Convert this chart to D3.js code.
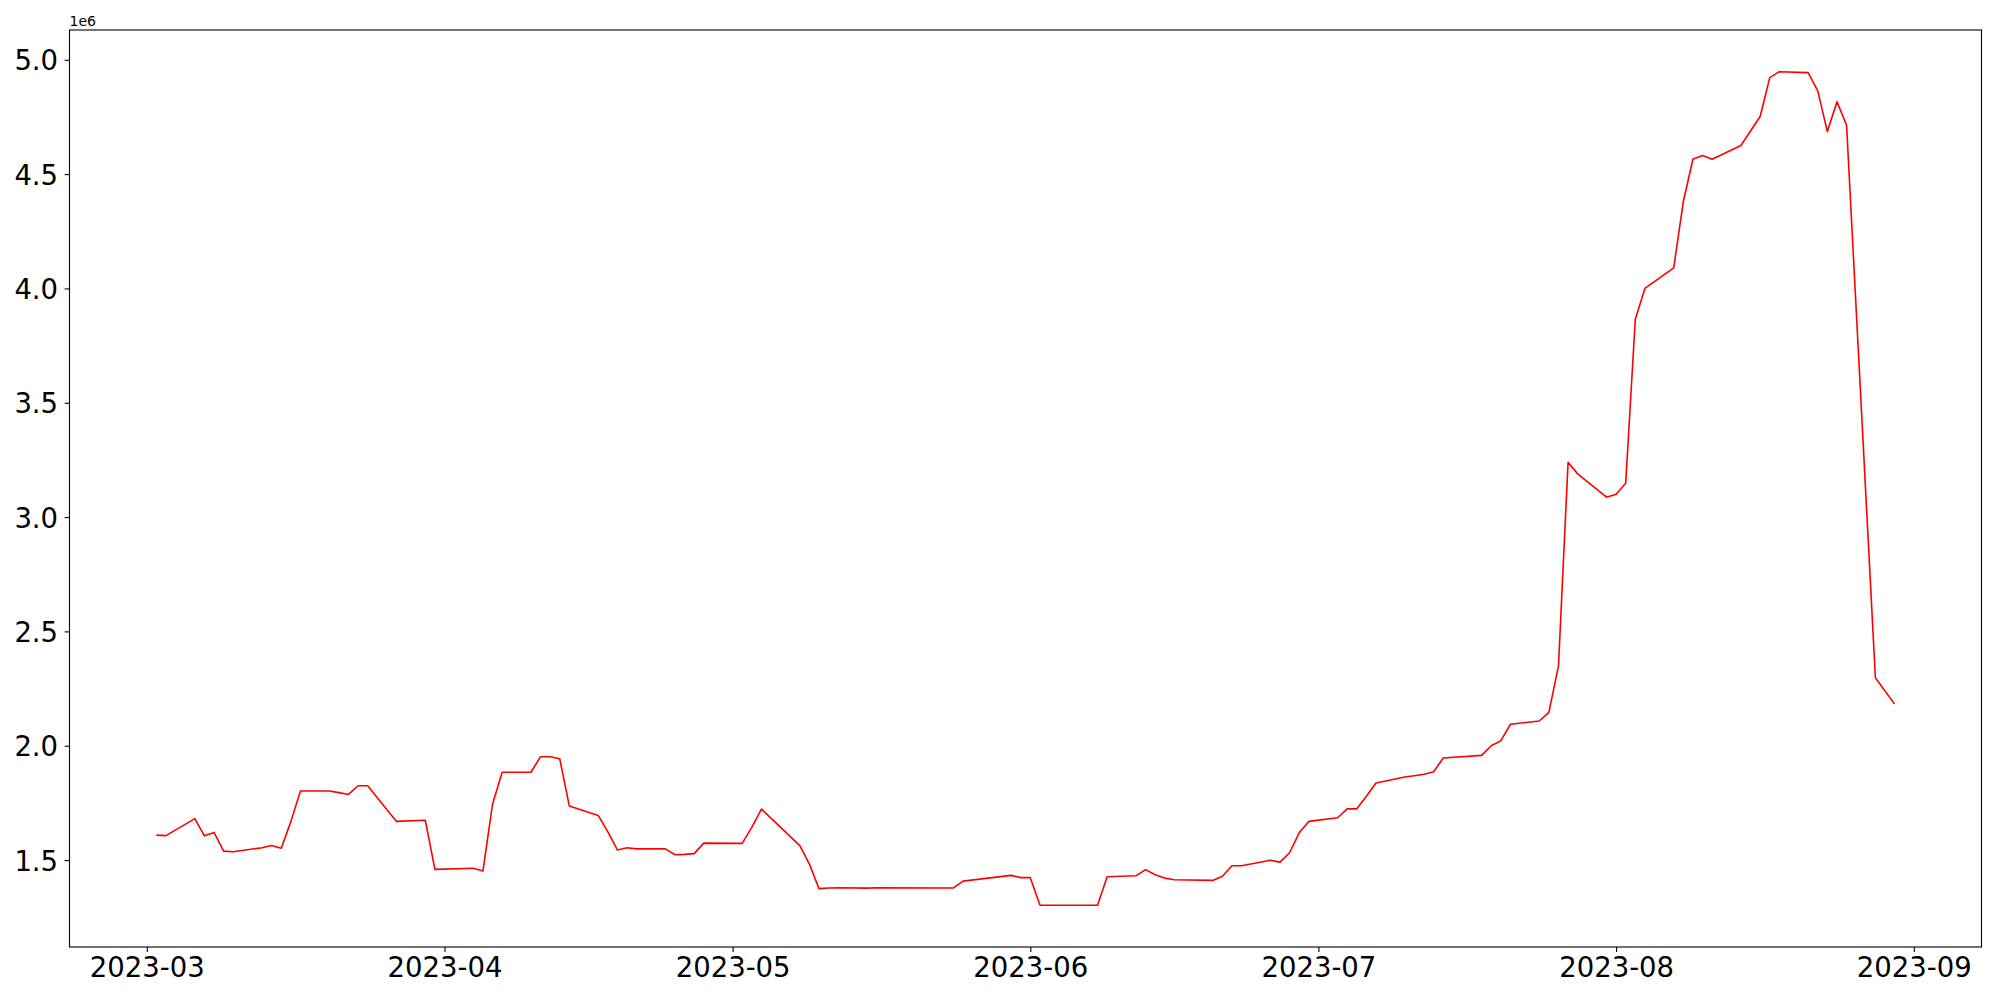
<!DOCTYPE html>
<html>
<head>
<meta charset="utf-8">
<script src="https://cdn.jsdelivr.net/npm/d3@7"></script>
<style>
  html, body { margin: 0; padding: 0; background: #fff; }
  svg { display: block; font-family: "DejaVu Sans", sans-serif; }
</style>
</head>
<body>
<svg id="chart" width="2000" height="1000"></svg>
<script>
// daily values (raw units, axis shows them in 1e6)
var dates = [
    "2023-03-02", "2023-03-03", "2023-03-06", "2023-03-07", "2023-03-08", "2023-03-09", "2023-03-10",
    "2023-03-13", "2023-03-14", "2023-03-15", "2023-03-16", "2023-03-17", "2023-03-20", "2023-03-21",
    "2023-03-22", "2023-03-23", "2023-03-24", "2023-03-27", "2023-03-30", "2023-03-31", "2023-04-04",
    "2023-04-05", "2023-04-06", "2023-04-07", "2023-04-10", "2023-04-11", "2023-04-12", "2023-04-13",
    "2023-04-14", "2023-04-17", "2023-04-18", "2023-04-19", "2023-04-20", "2023-04-21", "2023-04-24",
    "2023-04-25", "2023-04-26", "2023-04-27", "2023-04-28", "2023-05-02", "2023-05-03", "2023-05-04",
    "2023-05-08", "2023-05-09", "2023-05-10", "2023-05-11", "2023-05-12", "2023-05-15", "2023-05-16",
    "2023-05-24", "2023-05-25", "2023-05-30", "2023-05-31", "2023-06-01", "2023-06-02", "2023-06-08",
    "2023-06-09", "2023-06-12", "2023-06-13", "2023-06-14", "2023-06-15", "2023-06-16", "2023-06-20",
    "2023-06-21", "2023-06-22", "2023-06-23", "2023-06-26", "2023-06-27", "2023-06-28", "2023-06-29",
    "2023-06-30", "2023-07-03", "2023-07-04", "2023-07-05", "2023-07-06", "2023-07-07", "2023-07-10",
    "2023-07-11", "2023-07-12", "2023-07-13", "2023-07-14", "2023-07-18", "2023-07-19", "2023-07-20",
    "2023-07-21", "2023-07-24", "2023-07-25", "2023-07-26", "2023-07-27", "2023-07-28", "2023-07-31",
    "2023-08-01", "2023-08-02", "2023-08-03", "2023-08-04", "2023-08-07", "2023-08-08", "2023-08-09",
    "2023-08-10", "2023-08-11", "2023-08-14", "2023-08-16", "2023-08-17", "2023-08-18", "2023-08-21",
    "2023-08-22", "2023-08-23", "2023-08-24", "2023-08-25", "2023-08-28", "2023-08-30"
]
var values = [
    1609000, 1607000, 1681000, 1606000, 1621000, 1539000, 1536000,
    1554000, 1564000, 1552000, 1668000, 1802000, 1802000, 1795000,
    1787000, 1825000, 1825000, 1669000, 1674000, 1459000, 1464000,
    1452000, 1744000, 1884000, 1884000, 1952000, 1952000, 1943000,
    1736000, 1695000, 1624000, 1544000, 1554000, 1549000, 1549000,
    1523000, 1525000, 1528000, 1574000, 1573000, 1643000, 1723000,
    1563000, 1482000, 1375000, 1378000, 1379000, 1377000, 1379000,
    1378000, 1408000, 1433000, 1423000, 1423000, 1303000, 1302000,
    1427000, 1431000, 1458000, 1436000, 1421000, 1414000, 1411000,
    1429000, 1475000, 1475000, 1499000, 1491000, 1532000, 1619000,
    1669000, 1685000, 1724000, 1724000, 1779000, 1837000, 1863000,
    1869000, 1875000, 1886000, 1946000, 1958000, 2000000, 2022000,
    2094000, 2108000, 2146000, 2349000, 3240000, 3189000, 3087000,
    3100000, 3148000, 3865000, 4000000, 4090000, 4380000, 4565000,
    4581000, 4565000, 4625000, 4752000, 4922000, 4948000, 4944000,
    4864000, 4686000, 4817000, 4714000, 2297000, 2182000
]
var xTicks = ["2023-03-01", "2023-04-01", "2023-05-01", "2023-06-01", "2023-07-01", "2023-08-01", "2023-09-01"]
var yTicks = [1500000, 2000000, 2500000, 3000000, 3500000, 4000000, 4500000, 5000000]
var yOffsetLabel = "1e6"

var parse = d3.utcParse("%Y-%m-%d")
var data = dates.map((d, i) => ({date: parse(d), value: values[i]}))

var margin = {left: 69.5, right: 18.5, top: 30, bottom: 53}
var width = 2000, height = 1000
var svg = d3.select("#chart")
var font = "'DejaVu Sans', sans-serif"
var tickFont = "27.5px"

// matplotlib-style 5% padding around the data
var pad = (lo, hi) => [lo - (hi - lo) * 0.05, hi + (hi - lo) * 0.05]
var xExt = d3.extent(data, d => +d.date)
var yExt = d3.extent(data, d => d.value)

var x = d3.scaleUtc()
    .domain(pad(xExt[0], xExt[1]).map(t => new Date(t)))
    .range([margin.left, width - margin.right])
var y = d3.scaleLinear()
    .domain(pad(yExt[0], yExt[1]))
    .range([height - margin.bottom, margin.top])

var tickLen = 4.9

var xAxis = svg.append("g")
    .attr("transform", "translate(0," + (height - margin.bottom) + ")")
    .call(d3.axisBottom(x)
        .tickValues(xTicks.map(parse))
        .tickFormat(d3.utcFormat("%Y-%m"))
        .tickSizeInner(tickLen).tickSizeOuter(0))
xAxis.attr("font-family", null).attr("font-size", null)
xAxis.select(".domain").remove()
xAxis.selectAll("line").attr("stroke", "#000").attr("stroke-width", 1.1)
xAxis.selectAll("text")
    .attr("fill", "#000")
    .style("font-family", font)
    .style("font-size", tickFont)
    .attr("y", 30.2)
    .attr("dy", null)

var yAxis = svg.append("g")
    .attr("transform", "translate(" + margin.left + ",0)")
    .call(d3.axisLeft(y)
        .tickValues(yTicks)
        .tickFormat(v => (v / 1e6).toFixed(1))
        .tickSizeInner(tickLen).tickSizeOuter(0).tickPadding(6.5))
yAxis.attr("font-family", null).attr("font-size", null)
yAxis.select(".domain").remove()
yAxis.selectAll("line").attr("stroke", "#000").attr("stroke-width", 1.1)
yAxis.selectAll("text")
    .attr("fill", "#000")
    .style("font-family", font)
    .style("font-size", tickFont)
    .attr("dy", "0.364em")

var line = d3.line()
    .x(d => x(d.date))
    .y(d => y(d.value))

svg.append("path")
    .datum(data)
    .attr("fill", "none")
    .attr("stroke", "#ff0000")
    .attr("stroke-width", 1.6)
    .attr("stroke-linejoin", "round")
    .attr("d", line)

// axes frame
svg.append("rect")
    .attr("x", margin.left)
    .attr("y", margin.top)
    .attr("width", width - margin.left - margin.right)
    .attr("height", height - margin.top - margin.bottom)
    .attr("fill", "none")
    .attr("stroke", "#000")
    .attr("stroke-width", 1.1)

svg.append("text")
    .attr("x", margin.left)
    .attr("y", margin.top - 4)
    .style("font-family", font)
    .style("font-size", "14px")
    .text(yOffsetLabel)
</script>
</body>
</html>
